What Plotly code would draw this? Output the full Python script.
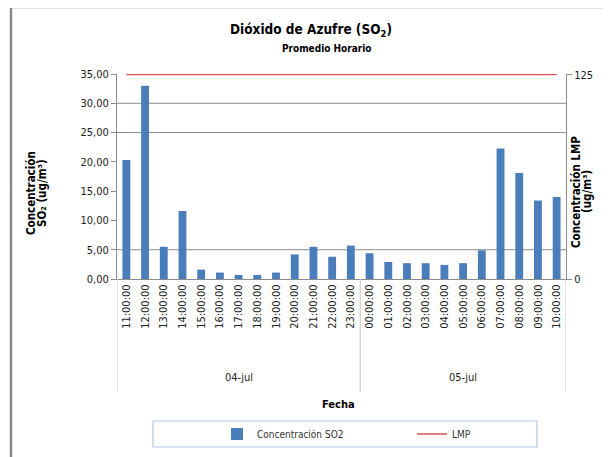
import plotly.graph_objects as go

dates = ["04-jul", "05-jul"]
date_span = [13, 11]
hours = ["11:00:00", "12:00:00", "13:00:00", "14:00:00", "15:00:00", "16:00:00",
         "17:00:00", "18:00:00", "19:00:00", "20:00:00", "21:00:00", "22:00:00",
         "23:00:00", "00:00:00", "01:00:00", "02:00:00", "03:00:00", "04:00:00",
         "05:00:00", "06:00:00", "07:00:00", "08:00:00", "09:00:00", "10:00:00"]
so2 = [20.3, 33.0, 5.5, 11.6, 1.6, 1.1, 0.7, 0.7, 1.1, 4.2, 5.5, 3.8,
       5.7, 4.4, 2.9, 2.7, 2.7, 2.4, 2.7, 4.9, 22.3, 18.1, 13.4, 14.0]
lmp = [125] * 24
y_ticks = [0, 5, 10, 15, 20, 25, 30, 35]
y_ticktext = ["0,00", "5,00", "10,00", "15,00", "20,00", "25,00", "30,00", "35,00"]
grid_vals = [5, 25, 30]

FONT = "Liberation Sans Narrow, DejaVu Sans Condensed, Arial Narrow, sans-serif"
OFF = 8  # page body margin
SW, SH = 611, 457
L, R, T, B = 117, 566, 74, 279  # plot area in screen pixels


def px(x):
    return (x - L) / (R - L)


def py(y):
    return (B - y) / (B - T)


fig = go.Figure()
fig.add_trace(go.Bar(x=hours, y=so2, name="Concentración SO2",
                     marker=dict(color="#4a7ebb", line=dict(width=0))))
fig.add_trace(go.Scatter(x=hours, y=lmp, name="LMP", mode="lines",
                         line=dict(color="#d9534f", width=1.3), yaxis="y2"))

shapes = []
for g in grid_vals:
    shapes.append(dict(type="line", xref="paper", yref="y", x0=0, x1=1, y0=g, y1=g,
                       line=dict(color="#8c8c8c", width=1), layer="below"))
# group dividers below the axis
bounds = [-0.5]
for s in date_span:
    bounds.append(bounds[-1] + s)
for bx in bounds:
    shapes.append(dict(type="line", xref="x", yref="paper", x0=bx, x1=bx,
                       y0=0, y1=py(392), line=dict(color="#c4c4c4", width=1)))
# outer frame
shapes.append(dict(type="rect", xref="paper", yref="paper",
                   x0=px(11), x1=px(640), y0=py(480), y1=py(7),
                   line=dict(color="#8a8a8a", width=2.5)))
# legend box
shapes.append(dict(type="rect", xref="paper", yref="paper",
                   x0=px(153), x1=px(537), y0=py(447), y1=py(421),
                   line=dict(color="#b4c8e4", width=1.2)))

ann_common = dict(xref="paper", yref="paper", showarrow=False,
                  xanchor="center", yanchor="middle")
annotations = [
    dict(text="<b>Dióxido de Azufre (SO<sub>2</sub>)</b>", x=px(311), y=py(30),
         font=dict(size=13.5, family=FONT, color="#000"), **ann_common),
    dict(text="<b>Promedio Horario</b>", x=px(326), y=py(48),
         font=dict(size=10, family=FONT, color="#000"), **ann_common),
    dict(text="<b>Concentración</b>", x=px(31), y=py(193), textangle=-90,
         font=dict(size=11.5, family=FONT, color="#000"), **ann_common),
    dict(text="<b>SO₂ (ug/m³)</b>", x=px(42), y=py(193), textangle=-90,
         font=dict(size=11.5, family=FONT, color="#000"), **ann_common),
    dict(text="<b>Concentración LMP</b>", x=px(576), y=py(192), textangle=-90,
         font=dict(size=11.5, family=FONT, color="#000"), **ann_common),
    dict(text="<b>(ug/m³)</b>", x=px(587), y=py(192), textangle=-90,
         font=dict(size=11.5, family=FONT, color="#000"), **ann_common),
    dict(text="<b>Fecha</b>", x=px(338), y=py(404),
         font=dict(size=11, family=FONT, color="#000"), **ann_common),
]
# date group labels
start = 0
for d, s in zip(dates, date_span):
    annotations.append(dict(text=d, x=start + (s - 1) / 2, y=py(377), xref="x", yref="paper",
                            showarrow=False, xanchor="center", yanchor="middle",
                            font=dict(size=11, family=FONT, color="#222")))
    start += s

fig.update_layout(
    width=SW - OFF, height=SH - OFF,
    margin=dict(l=L - OFF, r=SW - R, t=T - OFF, b=SH - B, autoexpand=False),
    paper_bgcolor="white", plot_bgcolor="white",
    font=dict(family=FONT, size=10, color="#222"),
    bargap=0.58,
    showlegend=True,
    legend=dict(orientation="h", x=px(412), y=py(434), xanchor="center", yanchor="middle",
                bgcolor="rgba(0,0,0,0)", font=dict(size=10, family=FONT, color="#333"),
                entrywidth=150, itemwidth=30),
    xaxis=dict(type="category", tickangle=-90, showline=True, linecolor="#8c8c8c",
               ticks="", showgrid=False, range=[-0.5, 23.5],
               tickfont=dict(size=11, family=FONT, color="#222")),
    yaxis=dict(range=[0, 35], tickvals=y_ticks, ticktext=y_ticktext, showgrid=False,
               showline=True, linecolor="#8c8c8c", ticks="outside", ticklen=5,
               tickcolor="#8c8c8c", zeroline=False,
               tickfont=dict(size=11, family=FONT, color="#222")),
    yaxis2=dict(range=[0, 125.4], tickvals=[0, 125], ticktext=["0", "125"], overlaying="y",
                side="right", showgrid=False, showline=True, linecolor="#8c8c8c",
                ticks="outside", ticklen=5, tickcolor="#8c8c8c", zeroline=False,
                tickfont=dict(size=11, family=FONT, color="#222")),
    shapes=shapes,
    annotations=annotations,
)

fig.write_html("out.html")
